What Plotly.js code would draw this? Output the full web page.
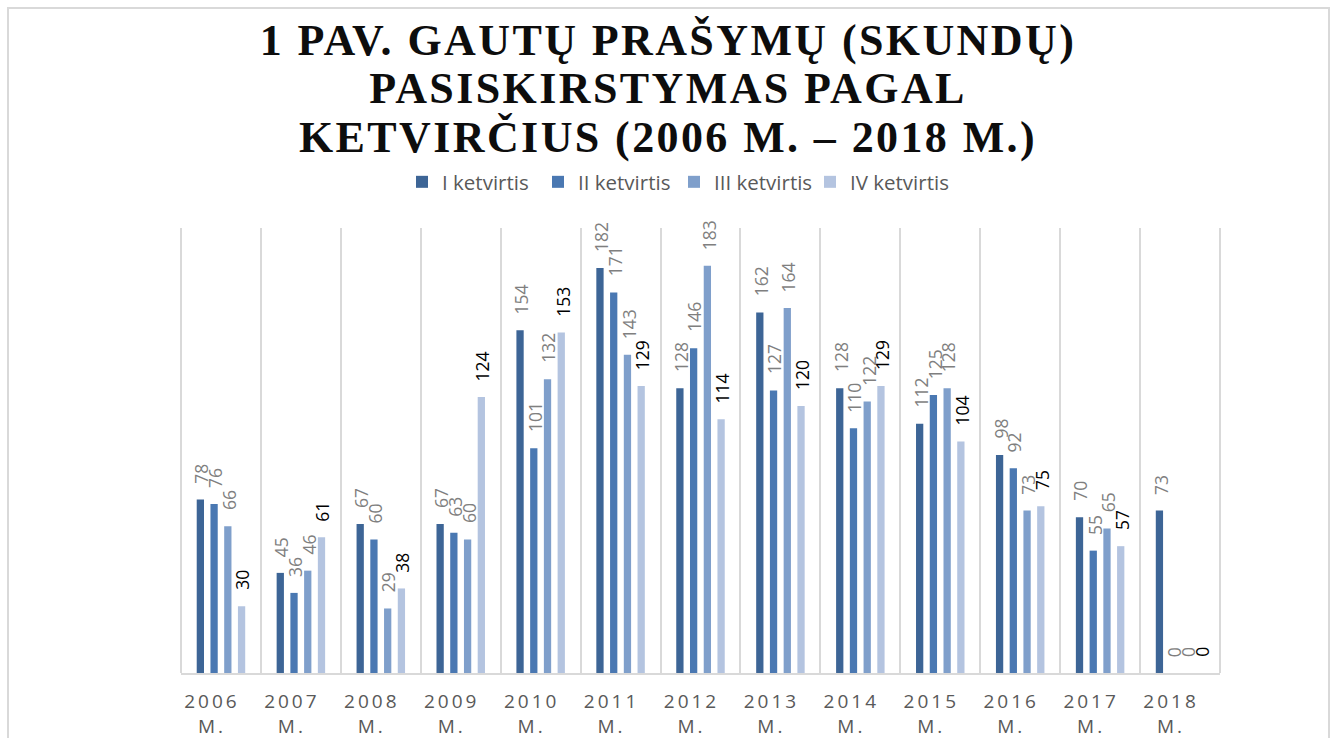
<!DOCTYPE html>
<html><head><meta charset="utf-8">
<script src="https://cdn.plot.ly/plotly-3.0.1.min.js"></script>
<style>html,body{margin:0;padding:0;background:#fff}</style>
</head><body>
<div id="chart" style="width:1336px;height:738px"></div>
<script>
// ---- data ----
const years = ['2006','2007','2008','2009','2010','2011','2012','2013','2014','2015','2016','2017','2018'];
const tickLabels = years.map(y => y + '<br>M.');
const seriesNames = ['I ketvirtis','II ketvirtis','III ketvirtis','IV ketvirtis'];
const q1 = [78, 45, 67, 67, 154, 182, 128, 162, 128, 112, 98, 70, 73];
const q2 = [76, 36, 60, 63, 101, 171, 146, 127, 110, 125, 92, 55, 0];
const q3 = [66, 46, 29, 60, 132, 143, 183, 164, 122, 128, 73, 65, 0];
const q4 = [30, 61, 38, 124, 153, 129, 114, 120, 129, 104, 75, 57, 0];
const series = [q1, q2, q3, q4];

// ---- styles ----
const barColors = ['#3d6596', '#4a78b2', '#7f9fcb', '#b4c4e0'];
const labelColors = ['#7f7f7f', '#7f7f7f', '#7f7f7f', '#000000'];
const bargap = 0.3125, bargroupgap = 0.47;
const catPx = 1039 / years.length;
const slotPx = catPx * (1 - bargap) / series.length;

const data = series.map((vals, i) => ({
  type: 'bar',
  name: seriesNames[i],
  x: tickLabels,
  y: vals,
  marker: {color: barColors[i]},
  hoverinfo: 'x+y+name'
}));

const annotations = [];
series.forEach((vals, i) => {
  vals.forEach((v, j) => {
    annotations.push({
      x: tickLabels[j], y: v, xref: 'x', yref: 'y',
      text: String(v), showarrow: false, textangle: -90,
      xanchor: 'center', yanchor: 'bottom',
      xshift: (i - (series.length - 1) / 2) * slotPx + 1,
      yshift: 14,
      font: {family: 'Open Sans, sans-serif', size: 17.5, color: labelColors[i]}
    });
  });
});

const layout = {
  width: 1336, height: 738,
  margin: {l: 181, r: 116, t: 228, b: 65},
  paper_bgcolor: '#ffffff', plot_bgcolor: '#ffffff',
  font: {family: 'Open Sans, sans-serif', color: '#595959'},
  title: {
    text: '1 PAV. GAUTŲ PRAŠYMŲ (SKUNDŲ)<br>PASISKIRSTYMAS PAGAL<br>KETVIRČIUS (2006 M. – 2018 M.)',
    font: {family: 'Liberation Serif, Times New Roman, serif', size: 44, weight: 'bold', color: '#0d0d0d'},
    x: 0.5, xanchor: 'center', xref: 'container',
    y: 1 - 55 / 738, yanchor: 'top', yref: 'container'
  },
  barmode: 'group', bargap: bargap, bargroupgap: bargroupgap,
  xaxis: {
    type: 'category', tickson: 'boundaries', showgrid: true,
    gridcolor: '#d9d9d9', gridwidth: 2,
    showline: true, linecolor: '#d9d9d9', linewidth: 2,
    ticks: '', ticklabelstandoff: 10, ticklabelshift: -9,
    tickfont: {family: 'Open Sans, sans-serif', size: 19, color: '#595959'},
    fixedrange: true
  },
  yaxis: {
    range: [0, 200], showgrid: false, zeroline: false, showticklabels: false,
    showline: false, ticks: '', fixedrange: true
  },
  showlegend: true,
  legend: {
    orientation: 'h', x: (402 - 181) / 1039, xanchor: 'left',
    y: (673 - 182) / 445, yanchor: 'middle',
    entrywidth: 91, entrywidthmode: 'pixels',
    font: {family: 'Open Sans, sans-serif', size: 20.5, color: '#595959'},
    traceorder: 'normal'
  },
  annotations: annotations,
  shapes: [{
    type: 'rect', xref: 'paper', yref: 'paper',
    x0: (8 - 181) / 1039, x1: (1329 - 181) / 1039,
    y0: -0.3, y1: (673 - 8) / 445,
    line: {color: '#d9d9d9', width: 2}, fillcolor: 'rgba(0,0,0,0)', layer: 'below'
  }, {
    type: 'line', xref: 'paper', yref: 'paper', x0: 0, x1: 0, y0: 0, y1: 1,
    line: {color: '#d9d9d9', width: 2}, layer: 'below'
  }, {
    type: 'line', xref: 'paper', yref: 'paper', x0: 1, x1: 1, y0: 0, y1: 1,
    line: {color: '#d9d9d9', width: 2}, layer: 'below'
  }]
};

Plotly.newPlot('chart', data, layout, {displayModeBar: false, staticPlot: true}).then(gd => {
  const t = gd.querySelector('.gtitle');
  if (t) {
    t.style.letterSpacing = '2.4px';
    t.querySelectorAll('tspan.line').forEach((ts) => {
      const dy = ts.getAttribute('dy');
      if (dy && dy.endsWith('em')) ts.setAttribute('dy', (parseFloat(dy) * 1.1 / 1.3) + 'em');
    });
  }
  gd.querySelectorAll('.xtick text').forEach(el => { el.style.letterSpacing = '3px'; });
  gd.querySelectorAll('.legend .scrollbox, .legend').forEach(el => el.removeAttribute('clip-path'));
});
</script>
</body></html>
